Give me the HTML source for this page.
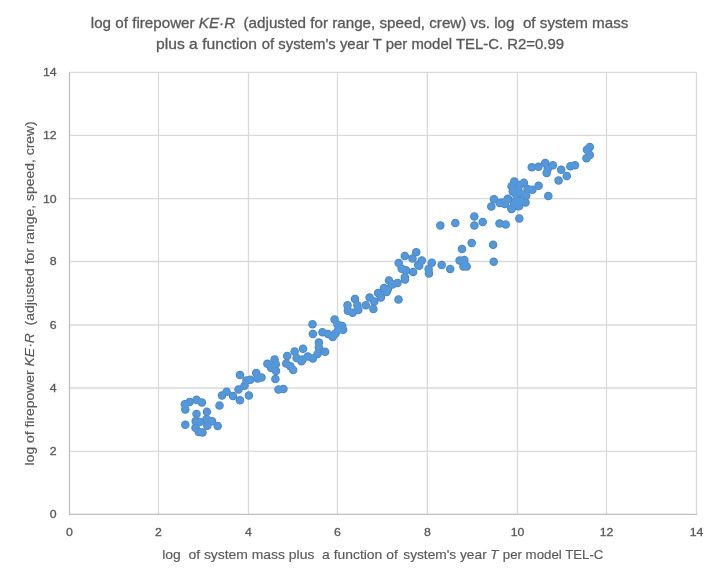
<!DOCTYPE html>
<html><head><meta charset="utf-8"><title>chart</title><style>html,body{margin:0;padding:0;background:#fff;}svg{display:block;}</style></head><body>
<svg width="720" height="583" viewBox="0 0 720 583">
<rect width="720" height="583" fill="#ffffff"/>
<g stroke="#d9d9d9" stroke-width="1.3"><line x1="158.50" y1="72.30" x2="158.50" y2="514.30"/><line x1="248.50" y1="72.30" x2="248.50" y2="514.30"/><line x1="337.50" y1="72.30" x2="337.50" y2="514.30"/><line x1="427.30" y1="72.30" x2="427.30" y2="514.30"/><line x1="517.50" y1="72.30" x2="517.50" y2="514.30"/><line x1="606.50" y1="72.30" x2="606.50" y2="514.30"/><line x1="696.50" y1="72.30" x2="696.50" y2="514.30"/><line x1="69.50" y1="451.30" x2="696.50" y2="451.30"/><line x1="69.50" y1="388.00" x2="696.50" y2="388.00"/><line x1="69.50" y1="325.00" x2="696.50" y2="325.00"/><line x1="69.50" y1="261.50" x2="696.50" y2="261.50"/><line x1="69.50" y1="198.60" x2="696.50" y2="198.60"/><line x1="69.50" y1="135.30" x2="696.50" y2="135.30"/><line x1="69.50" y1="72.30" x2="696.50" y2="72.30"/></g>
<g stroke="#bfbfbf" stroke-width="1.3"><line x1="69.50" y1="72.30" x2="69.50" y2="514.30"/><line x1="68.90" y1="514.30" x2="697.10" y2="514.30"/></g>
<g font-family='"Liberation Sans", sans-serif' font-size="11.4" fill="#595959" stroke="#595959" stroke-width="0.3"><text transform="translate(56.7 518.20) scale(1.08 1)" text-anchor="end">0</text><text transform="translate(56.7 455.20) scale(1.08 1)" text-anchor="end">2</text><text transform="translate(56.7 391.90) scale(1.08 1)" text-anchor="end">4</text><text transform="translate(56.7 328.90) scale(1.08 1)" text-anchor="end">6</text><text transform="translate(56.7 265.40) scale(1.08 1)" text-anchor="end">8</text><text transform="translate(56.7 202.50) scale(1.08 1)" text-anchor="end">10</text><text transform="translate(56.7 139.20) scale(1.08 1)" text-anchor="end">12</text><text transform="translate(56.7 76.20) scale(1.08 1)" text-anchor="end">14</text><text transform="translate(69.50 536.4) scale(1.08 1)" text-anchor="middle">0</text><text transform="translate(158.50 536.4) scale(1.08 1)" text-anchor="middle">2</text><text transform="translate(248.50 536.4) scale(1.08 1)" text-anchor="middle">4</text><text transform="translate(337.50 536.4) scale(1.08 1)" text-anchor="middle">6</text><text transform="translate(427.30 536.4) scale(1.08 1)" text-anchor="middle">8</text><text transform="translate(517.50 536.4) scale(1.08 1)" text-anchor="middle">10</text><text transform="translate(606.50 536.4) scale(1.08 1)" text-anchor="middle">12</text><text transform="translate(696.50 536.4) scale(1.08 1)" text-anchor="middle">14</text></g>
<g fill="#4683c4"><circle cx="185.3" cy="409.4" r="4.25"/><circle cx="184.9" cy="404.3" r="4.25"/><circle cx="189.6" cy="402.0" r="4.25"/><circle cx="196.5" cy="399.7" r="4.25"/><circle cx="201.9" cy="402.4" r="4.25"/><circle cx="185.3" cy="424.8" r="4.25"/><circle cx="196.5" cy="414.0" r="4.25"/><circle cx="206.9" cy="411.7" r="4.25"/><circle cx="195.7" cy="421.3" r="4.25"/><circle cx="195.5" cy="427.8" r="4.25"/><circle cx="198.8" cy="432.1" r="4.25"/><circle cx="206.5" cy="419.0" r="4.25"/><circle cx="212.0" cy="421.3" r="4.25"/><circle cx="217.7" cy="426.0" r="4.25"/><circle cx="219.5" cy="405.5" r="4.25"/><circle cx="222.0" cy="395.6" r="4.25"/><circle cx="226.6" cy="391.7" r="4.25"/><circle cx="233.0" cy="396.0" r="4.25"/><circle cx="239.9" cy="400.3" r="4.25"/><circle cx="238.5" cy="389.5" r="4.25"/><circle cx="244.5" cy="385.7" r="4.25"/><circle cx="246.5" cy="380.6" r="4.25"/><circle cx="248.9" cy="395.4" r="4.25"/><circle cx="240.0" cy="375.1" r="4.25"/><circle cx="250.4" cy="379.7" r="4.25"/><circle cx="256.2" cy="373.1" r="4.25"/><circle cx="257.6" cy="378.5" r="4.25"/><circle cx="261.5" cy="377.4" r="4.25"/><circle cx="267.4" cy="363.8" r="4.25"/><circle cx="274.6" cy="359.4" r="4.25"/><circle cx="271.2" cy="368.0" r="4.25"/><circle cx="276.0" cy="371.1" r="4.25"/><circle cx="275.4" cy="379.0" r="4.25"/><circle cx="278.5" cy="389.4" r="4.25"/><circle cx="283.4" cy="389.1" r="4.25"/><circle cx="287.2" cy="356.0" r="4.25"/><circle cx="286.2" cy="363.5" r="4.25"/><circle cx="290.4" cy="366.3" r="4.25"/><circle cx="293.2" cy="370.0" r="4.25"/><circle cx="294.6" cy="351.5" r="4.25"/><circle cx="303.0" cy="348.7" r="4.25"/><circle cx="296.6" cy="358.0" r="4.25"/><circle cx="301.5" cy="361.2" r="4.25"/><circle cx="307.8" cy="356.4" r="4.25"/><circle cx="312.8" cy="358.5" r="4.25"/><circle cx="317.5" cy="354.0" r="4.25"/><circle cx="302.5" cy="359.5" r="4.25"/><circle cx="318.9" cy="342.6" r="4.25"/><circle cx="318.9" cy="347.5" r="4.25"/><circle cx="325.1" cy="351.7" r="4.25"/><circle cx="312.5" cy="324.2" r="4.25"/><circle cx="312.9" cy="334.1" r="4.25"/><circle cx="322.4" cy="332.2" r="4.25"/><circle cx="328.0" cy="334.1" r="4.25"/><circle cx="332.7" cy="336.9" r="4.25"/><circle cx="335.6" cy="333.6" r="4.25"/><circle cx="334.6" cy="319.4" r="4.25"/><circle cx="342.2" cy="326.0" r="4.25"/><circle cx="343.1" cy="329.8" r="4.25"/><circle cx="338.4" cy="329.8" r="4.25"/><circle cx="347.5" cy="305.2" r="4.25"/><circle cx="347.9" cy="310.8" r="4.25"/><circle cx="352.6" cy="312.7" r="4.25"/><circle cx="355.0" cy="299.1" r="4.25"/><circle cx="358.3" cy="309.9" r="4.25"/><circle cx="357.4" cy="305.2" r="4.25"/><circle cx="365.8" cy="305.2" r="4.25"/><circle cx="369.6" cy="297.6" r="4.25"/><circle cx="373.4" cy="309.0" r="4.25"/><circle cx="374.3" cy="301.4" r="4.25"/><circle cx="378.1" cy="292.9" r="4.25"/><circle cx="380.9" cy="297.6" r="4.25"/><circle cx="386.6" cy="292.0" r="4.25"/><circle cx="387.8" cy="289.3" r="4.25"/><circle cx="389.0" cy="280.5" r="4.25"/><circle cx="397.5" cy="283.0" r="4.25"/><circle cx="405.0" cy="279.4" r="4.25"/><circle cx="398.7" cy="263.1" r="4.25"/><circle cx="404.8" cy="256.0" r="4.25"/><circle cx="416.2" cy="252.3" r="4.25"/><circle cx="418.2" cy="264.7" r="4.25"/><circle cx="421.8" cy="260.6" r="4.25"/><circle cx="398.5" cy="299.5" r="4.25"/><circle cx="431.8" cy="262.7" r="4.25"/><circle cx="428.6" cy="269.0" r="4.25"/><circle cx="429.0" cy="273.6" r="4.25"/><circle cx="441.7" cy="265.1" r="4.25"/><circle cx="450.2" cy="268.9" r="4.25"/><circle cx="459.6" cy="260.4" r="4.25"/><circle cx="464.3" cy="259.9" r="4.25"/><circle cx="463.4" cy="266.5" r="4.25"/><circle cx="466.7" cy="266.5" r="4.25"/><circle cx="464.3" cy="263.7" r="4.25"/><circle cx="462.0" cy="249.1" r="4.25"/><circle cx="471.7" cy="242.9" r="4.25"/><circle cx="493.1" cy="244.8" r="4.25"/><circle cx="493.7" cy="261.8" r="4.25"/><circle cx="440.3" cy="225.6" r="4.25"/><circle cx="455.3" cy="223.0" r="4.25"/><circle cx="474.3" cy="216.5" r="4.25"/><circle cx="474.4" cy="225.6" r="4.25"/><circle cx="482.7" cy="222.1" r="4.25"/><circle cx="499.5" cy="223.6" r="4.25"/><circle cx="505.7" cy="224.4" r="4.25"/><circle cx="519.3" cy="218.5" r="4.25"/><circle cx="491.3" cy="206.4" r="4.25"/><circle cx="494.0" cy="199.3" r="4.25"/><circle cx="499.7" cy="202.9" r="4.25"/><circle cx="504.8" cy="204.0" r="4.25"/><circle cx="507.9" cy="198.8" r="4.25"/><circle cx="511.5" cy="209.1" r="4.25"/><circle cx="514.1" cy="204.0" r="4.25"/><circle cx="502.3" cy="202.4" r="4.25"/><circle cx="507.7" cy="199.3" r="4.25"/><circle cx="515.4" cy="200.9" r="4.25"/><circle cx="511.6" cy="208.6" r="4.25"/><circle cx="518.5" cy="206.3" r="4.25"/><circle cx="514.3" cy="181.6" r="4.25"/><circle cx="511.6" cy="186.2" r="4.25"/><circle cx="523.9" cy="182.7" r="4.25"/><circle cx="532.4" cy="189.7" r="4.25"/><circle cx="538.6" cy="185.8" r="4.25"/><circle cx="526.2" cy="195.5" r="4.25"/><circle cx="525.5" cy="202.4" r="4.25"/><circle cx="519.3" cy="193.1" r="4.25"/><circle cx="516.2" cy="194.7" r="4.25"/><circle cx="523.4" cy="194.7" r="4.25"/><circle cx="520.3" cy="200.9" r="4.25"/><circle cx="519.2" cy="206.0" r="4.25"/><circle cx="518.2" cy="188.5" r="4.25"/><circle cx="531.8" cy="167.3" r="4.25"/><circle cx="538.5" cy="166.7" r="4.25"/><circle cx="545.2" cy="163.1" r="4.25"/><circle cx="546.7" cy="172.9" r="4.25"/><circle cx="547.8" cy="168.8" r="4.25"/><circle cx="552.9" cy="165.2" r="4.25"/><circle cx="561.2" cy="169.8" r="4.25"/><circle cx="566.8" cy="176.0" r="4.25"/><circle cx="558.6" cy="180.6" r="4.25"/><circle cx="570.4" cy="166.2" r="4.25"/><circle cx="575.0" cy="165.2" r="4.25"/><circle cx="548.3" cy="196.1" r="4.25"/><circle cx="589.8" cy="147.0" r="4.25"/><circle cx="587.0" cy="149.8" r="4.25"/><circle cx="589.8" cy="155.0" r="4.25"/><circle cx="586.5" cy="158.3" r="4.25"/><circle cx="412.5" cy="258.5" r="4.25"/><circle cx="413.1" cy="271.9" r="4.25"/><circle cx="405.9" cy="270.3" r="4.25"/><circle cx="401.7" cy="268.8" r="4.25"/><circle cx="404.8" cy="277.0" r="4.25"/><circle cx="419.2" cy="265.7" r="4.25"/><circle cx="392.5" cy="284.5" r="4.25"/><circle cx="384.0" cy="288.0" r="4.25"/><circle cx="519.5" cy="185.0" r="4.25"/><circle cx="337.5" cy="324.5" r="4.25"/><circle cx="207.3" cy="425.8" r="4.25"/><circle cx="202.5" cy="432.6" r="4.25"/><circle cx="527.5" cy="189.0" r="4.25"/><circle cx="512.8" cy="191.5" r="4.25"/><circle cx="275.8" cy="364.2" r="4.25"/><circle cx="199.8" cy="422.0" r="4.25"/></g>
<g fill="#5498da"><circle cx="185.3" cy="409.4" r="3.4"/><circle cx="184.9" cy="404.3" r="3.4"/><circle cx="189.6" cy="402.0" r="3.4"/><circle cx="196.5" cy="399.7" r="3.4"/><circle cx="201.9" cy="402.4" r="3.4"/><circle cx="185.3" cy="424.8" r="3.4"/><circle cx="196.5" cy="414.0" r="3.4"/><circle cx="206.9" cy="411.7" r="3.4"/><circle cx="195.7" cy="421.3" r="3.4"/><circle cx="195.5" cy="427.8" r="3.4"/><circle cx="198.8" cy="432.1" r="3.4"/><circle cx="206.5" cy="419.0" r="3.4"/><circle cx="212.0" cy="421.3" r="3.4"/><circle cx="217.7" cy="426.0" r="3.4"/><circle cx="219.5" cy="405.5" r="3.4"/><circle cx="222.0" cy="395.6" r="3.4"/><circle cx="226.6" cy="391.7" r="3.4"/><circle cx="233.0" cy="396.0" r="3.4"/><circle cx="239.9" cy="400.3" r="3.4"/><circle cx="238.5" cy="389.5" r="3.4"/><circle cx="244.5" cy="385.7" r="3.4"/><circle cx="246.5" cy="380.6" r="3.4"/><circle cx="248.9" cy="395.4" r="3.4"/><circle cx="240.0" cy="375.1" r="3.4"/><circle cx="250.4" cy="379.7" r="3.4"/><circle cx="256.2" cy="373.1" r="3.4"/><circle cx="257.6" cy="378.5" r="3.4"/><circle cx="261.5" cy="377.4" r="3.4"/><circle cx="267.4" cy="363.8" r="3.4"/><circle cx="274.6" cy="359.4" r="3.4"/><circle cx="271.2" cy="368.0" r="3.4"/><circle cx="276.0" cy="371.1" r="3.4"/><circle cx="275.4" cy="379.0" r="3.4"/><circle cx="278.5" cy="389.4" r="3.4"/><circle cx="283.4" cy="389.1" r="3.4"/><circle cx="287.2" cy="356.0" r="3.4"/><circle cx="286.2" cy="363.5" r="3.4"/><circle cx="290.4" cy="366.3" r="3.4"/><circle cx="293.2" cy="370.0" r="3.4"/><circle cx="294.6" cy="351.5" r="3.4"/><circle cx="303.0" cy="348.7" r="3.4"/><circle cx="296.6" cy="358.0" r="3.4"/><circle cx="301.5" cy="361.2" r="3.4"/><circle cx="307.8" cy="356.4" r="3.4"/><circle cx="312.8" cy="358.5" r="3.4"/><circle cx="317.5" cy="354.0" r="3.4"/><circle cx="302.5" cy="359.5" r="3.4"/><circle cx="318.9" cy="342.6" r="3.4"/><circle cx="318.9" cy="347.5" r="3.4"/><circle cx="325.1" cy="351.7" r="3.4"/><circle cx="312.5" cy="324.2" r="3.4"/><circle cx="312.9" cy="334.1" r="3.4"/><circle cx="322.4" cy="332.2" r="3.4"/><circle cx="328.0" cy="334.1" r="3.4"/><circle cx="332.7" cy="336.9" r="3.4"/><circle cx="335.6" cy="333.6" r="3.4"/><circle cx="334.6" cy="319.4" r="3.4"/><circle cx="342.2" cy="326.0" r="3.4"/><circle cx="343.1" cy="329.8" r="3.4"/><circle cx="338.4" cy="329.8" r="3.4"/><circle cx="347.5" cy="305.2" r="3.4"/><circle cx="347.9" cy="310.8" r="3.4"/><circle cx="352.6" cy="312.7" r="3.4"/><circle cx="355.0" cy="299.1" r="3.4"/><circle cx="358.3" cy="309.9" r="3.4"/><circle cx="357.4" cy="305.2" r="3.4"/><circle cx="365.8" cy="305.2" r="3.4"/><circle cx="369.6" cy="297.6" r="3.4"/><circle cx="373.4" cy="309.0" r="3.4"/><circle cx="374.3" cy="301.4" r="3.4"/><circle cx="378.1" cy="292.9" r="3.4"/><circle cx="380.9" cy="297.6" r="3.4"/><circle cx="386.6" cy="292.0" r="3.4"/><circle cx="387.8" cy="289.3" r="3.4"/><circle cx="389.0" cy="280.5" r="3.4"/><circle cx="397.5" cy="283.0" r="3.4"/><circle cx="405.0" cy="279.4" r="3.4"/><circle cx="398.7" cy="263.1" r="3.4"/><circle cx="404.8" cy="256.0" r="3.4"/><circle cx="416.2" cy="252.3" r="3.4"/><circle cx="418.2" cy="264.7" r="3.4"/><circle cx="421.8" cy="260.6" r="3.4"/><circle cx="398.5" cy="299.5" r="3.4"/><circle cx="431.8" cy="262.7" r="3.4"/><circle cx="428.6" cy="269.0" r="3.4"/><circle cx="429.0" cy="273.6" r="3.4"/><circle cx="441.7" cy="265.1" r="3.4"/><circle cx="450.2" cy="268.9" r="3.4"/><circle cx="459.6" cy="260.4" r="3.4"/><circle cx="464.3" cy="259.9" r="3.4"/><circle cx="463.4" cy="266.5" r="3.4"/><circle cx="466.7" cy="266.5" r="3.4"/><circle cx="464.3" cy="263.7" r="3.4"/><circle cx="462.0" cy="249.1" r="3.4"/><circle cx="471.7" cy="242.9" r="3.4"/><circle cx="493.1" cy="244.8" r="3.4"/><circle cx="493.7" cy="261.8" r="3.4"/><circle cx="440.3" cy="225.6" r="3.4"/><circle cx="455.3" cy="223.0" r="3.4"/><circle cx="474.3" cy="216.5" r="3.4"/><circle cx="474.4" cy="225.6" r="3.4"/><circle cx="482.7" cy="222.1" r="3.4"/><circle cx="499.5" cy="223.6" r="3.4"/><circle cx="505.7" cy="224.4" r="3.4"/><circle cx="519.3" cy="218.5" r="3.4"/><circle cx="491.3" cy="206.4" r="3.4"/><circle cx="494.0" cy="199.3" r="3.4"/><circle cx="499.7" cy="202.9" r="3.4"/><circle cx="504.8" cy="204.0" r="3.4"/><circle cx="507.9" cy="198.8" r="3.4"/><circle cx="511.5" cy="209.1" r="3.4"/><circle cx="514.1" cy="204.0" r="3.4"/><circle cx="502.3" cy="202.4" r="3.4"/><circle cx="507.7" cy="199.3" r="3.4"/><circle cx="515.4" cy="200.9" r="3.4"/><circle cx="511.6" cy="208.6" r="3.4"/><circle cx="518.5" cy="206.3" r="3.4"/><circle cx="514.3" cy="181.6" r="3.4"/><circle cx="511.6" cy="186.2" r="3.4"/><circle cx="523.9" cy="182.7" r="3.4"/><circle cx="532.4" cy="189.7" r="3.4"/><circle cx="538.6" cy="185.8" r="3.4"/><circle cx="526.2" cy="195.5" r="3.4"/><circle cx="525.5" cy="202.4" r="3.4"/><circle cx="519.3" cy="193.1" r="3.4"/><circle cx="516.2" cy="194.7" r="3.4"/><circle cx="523.4" cy="194.7" r="3.4"/><circle cx="520.3" cy="200.9" r="3.4"/><circle cx="519.2" cy="206.0" r="3.4"/><circle cx="518.2" cy="188.5" r="3.4"/><circle cx="531.8" cy="167.3" r="3.4"/><circle cx="538.5" cy="166.7" r="3.4"/><circle cx="545.2" cy="163.1" r="3.4"/><circle cx="546.7" cy="172.9" r="3.4"/><circle cx="547.8" cy="168.8" r="3.4"/><circle cx="552.9" cy="165.2" r="3.4"/><circle cx="561.2" cy="169.8" r="3.4"/><circle cx="566.8" cy="176.0" r="3.4"/><circle cx="558.6" cy="180.6" r="3.4"/><circle cx="570.4" cy="166.2" r="3.4"/><circle cx="575.0" cy="165.2" r="3.4"/><circle cx="548.3" cy="196.1" r="3.4"/><circle cx="589.8" cy="147.0" r="3.4"/><circle cx="587.0" cy="149.8" r="3.4"/><circle cx="589.8" cy="155.0" r="3.4"/><circle cx="586.5" cy="158.3" r="3.4"/><circle cx="412.5" cy="258.5" r="3.4"/><circle cx="413.1" cy="271.9" r="3.4"/><circle cx="405.9" cy="270.3" r="3.4"/><circle cx="401.7" cy="268.8" r="3.4"/><circle cx="404.8" cy="277.0" r="3.4"/><circle cx="419.2" cy="265.7" r="3.4"/><circle cx="392.5" cy="284.5" r="3.4"/><circle cx="384.0" cy="288.0" r="3.4"/><circle cx="519.5" cy="185.0" r="3.4"/><circle cx="337.5" cy="324.5" r="3.4"/><circle cx="207.3" cy="425.8" r="3.4"/><circle cx="202.5" cy="432.6" r="3.4"/><circle cx="527.5" cy="189.0" r="3.4"/><circle cx="512.8" cy="191.5" r="3.4"/><circle cx="275.8" cy="364.2" r="3.4"/><circle cx="199.8" cy="422.0" r="3.4"/></g>
<g font-family='"Liberation Sans", sans-serif' fill="#595959" stroke="#595959" stroke-width="0.3">
<text x="90.8" y="27.5" font-size="14.5" textLength="537.6" lengthAdjust="spacingAndGlyphs" xml:space="preserve">log of firepower <tspan font-style="italic">KE·R</tspan>  (adjusted for range, speed, crew) vs. log  of system mass</text>
<text y="48.7" font-size="14.5" xml:space="preserve"><tspan x="156" textLength="101" lengthAdjust="spacingAndGlyphs">plus a function</tspan> <tspan x="261.7" textLength="302.3" lengthAdjust="spacingAndGlyphs">of system's year T per model TEL-C. R2=0.99</tspan></text>
<text y="558.9" font-size="13.3" stroke-width="0.15" xml:space="preserve"><tspan x="162.2" textLength="235.6" lengthAdjust="spacingAndGlyphs">log  of system mass plus  a function of</tspan> <tspan x="403.3" textLength="83.4" lengthAdjust="spacingAndGlyphs">system's year</tspan> <tspan x="490.2" font-style="italic">T</tspan> <tspan x="502.8" textLength="100.6" lengthAdjust="spacingAndGlyphs">per model TEL-C</tspan></text>
<text transform="translate(33.6 465.4) rotate(-90)" x="0" y="0" font-size="13.3" stroke-width="0.15" textLength="344.1" lengthAdjust="spacingAndGlyphs" xml:space="preserve">log of firepower <tspan font-style="italic">KE·R</tspan>  (adjusted for range, speed, crew)</text>
</g>
</svg>
</body></html>
